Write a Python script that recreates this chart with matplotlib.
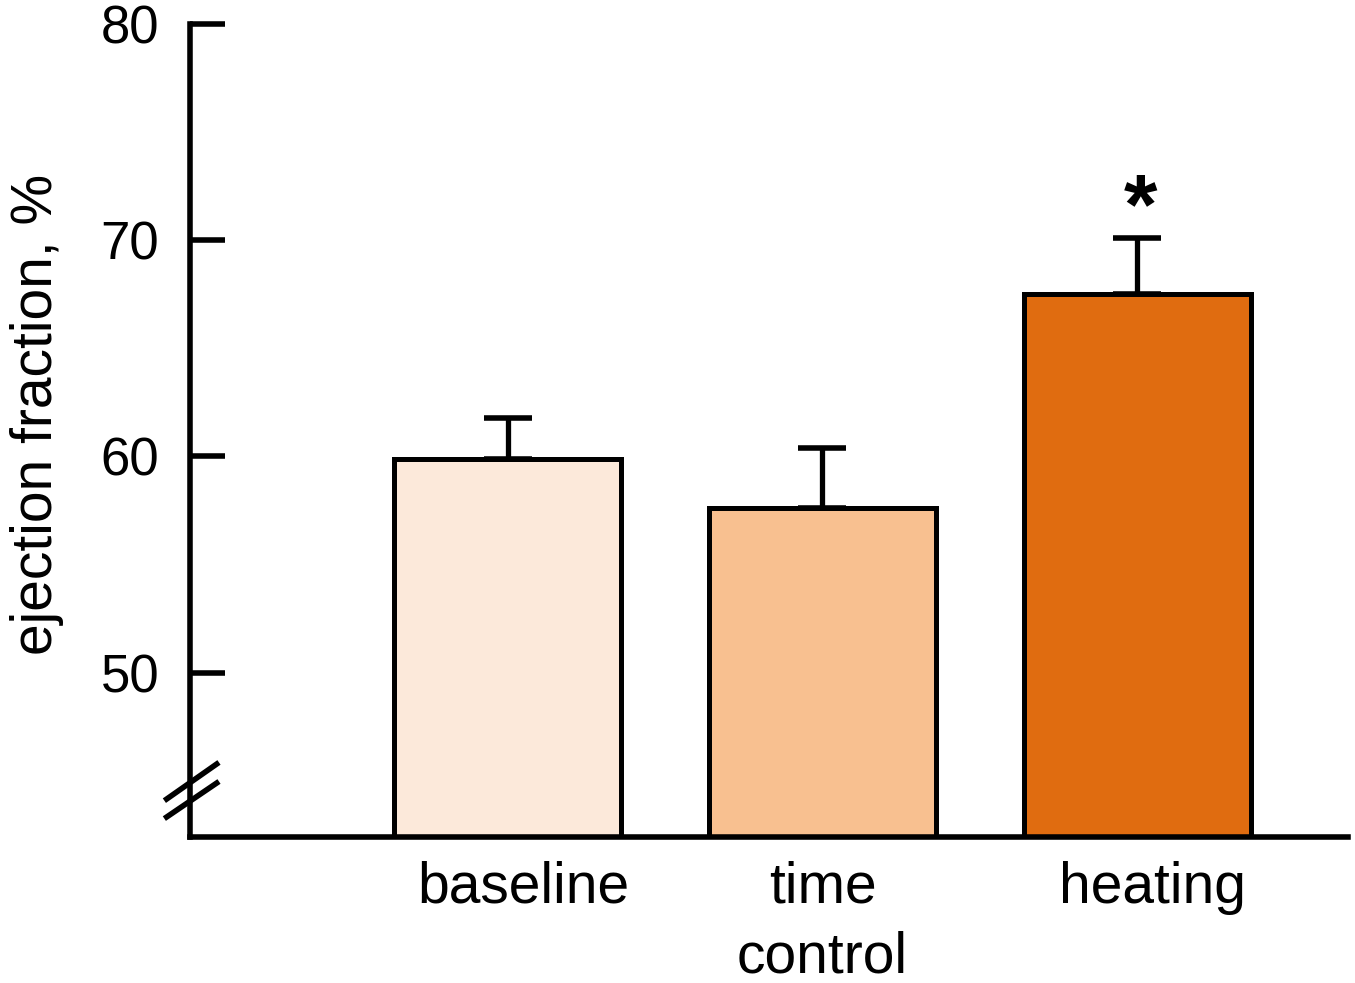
import matplotlib
matplotlib.use("Agg")
import matplotlib.pyplot as plt
import matplotlib.transforms as mtransforms
import numpy as np

plt.rcParams['font.family'] = ['Liberation Sans', 'DejaVu Sans']

groups = ['baseline', 'time\ncontrol', 'heating']
ef_mean = [59.9, 57.6, 67.5]
ef_err = [1.9, 2.8, 2.6]
colors = ['#FCE9DA', '#F8C090', '#E06C10']
ymin, ymax = 42.4, 80

fig = plt.figure(figsize=(13.55, 9.83), dpi=100)
ax = fig.add_axes([0.140, 0.1485, 0.855, 0.827])

x = np.arange(len(groups))
ax.bar(x, np.array(ef_mean) - ymin, bottom=ymin, width=0.72, color=colors,
       edgecolor='black', linewidth=3.6, zorder=2)
ax.errorbar(x, ef_mean, yerr=[[0, 0, 0], ef_err], fmt='none', ecolor='black',
            elinewidth=3.8, capsize=17, capthick=4, zorder=1)
ax.text(2.01, ef_mean[2] + ef_err[2] + 1.25, '*', ha='center', va='center',
        fontsize=62, fontweight='bold')

ax.set_xlim(-1.01, 2.67)
ax.set_ylim(ymin, ymax)
ax.set_yticks([50, 60, 70, 80])
ax.set_xticks(x)
ax.set_xticklabels(groups, fontsize=41, linespacing=1.38)
ax.tick_params(axis='x', length=0, pad=17)
ax.tick_params(axis='y', direction='in', length=25, width=4, labelsize=38, pad=22)

# nudge outer labels to the right as in the original
for lab, dx in zip(ax.get_xticklabels(), [16, 0, 15]):
    lab.set_transform(lab.get_transform() +
                      mtransforms.ScaledTranslation(dx / 100, 0, fig.dpi_scale_trans))

for s in ['top', 'right']:
    ax.spines[s].set_visible(False)
for s in ['left', 'bottom']:
    ax.spines[s].set_linewidth(4)

# axis break marks
for y0, y1 in [(0.0467, 0.0898), (0.0246, 0.0664)]:
    ax.plot([-0.0199, 0.0233], [y0, y1], transform=ax.transAxes, color='black',
            lw=4, clip_on=False, zorder=5)

fig.text(0.027, 0.578, 'ejection fraction, %', rotation=90, ha='center', va='center',
         fontsize=41)

fig.savefig('out.png', dpi=100)
